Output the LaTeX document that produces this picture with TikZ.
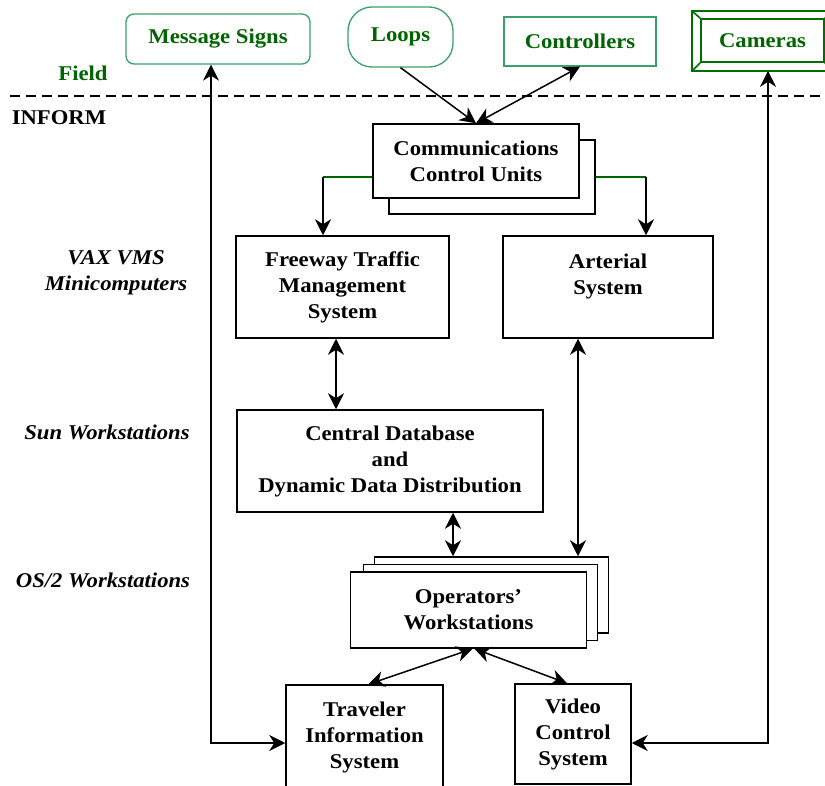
\documentclass[tikz,border=0pt]{standalone}
\usepackage{fontspec}
\setmainfont{Liberation Serif}[FakeStretch=1.08]
\usetikzlibrary{arrows.meta,positioning,calc}

\definecolor{fieldtext}{RGB}{0,100,0}
\definecolor{fieldedge}{RGB}{60,160,105}
\definecolor{camedge}{RGB}{0,110,0}

\begin{document}
\begin{tikzpicture}[
  x=1pt,
  y=-1pt,
  line width=1.5pt,
  font=\fontsize{21}{26}\selectfont\bfseries,
  >={Stealth[length=16pt,width=16pt,inset=5pt]}
]

  \tikzstyle{sysbox}=[draw,rectangle,fill=white,align=center,inner sep=2pt]
  \tikzstyle{fieldbox}=[draw=fieldedge,rectangle,fill=white,text=fieldtext,line width=1.3pt,inner sep=2pt]
  \tikzstyle{camframe}=[draw=camedge,line width=1.6pt]
  \tikzstyle{layerlab}=[align=center,font=\fontsize{21}{26}\selectfont\bfseries\itshape]
  \tikzstyle{feed}=[->]
  \tikzstyle{link}=[<->]
  \tikzstyle{bus}=[draw=fieldtext,line width=1.2pt]

  \useasboundingbox (0,0) rectangle (825,786);

  % field devices
  \node[fieldbox,rounded corners=8pt,minimum width=184pt,minimum height=50pt] (msg) at (218,39) {Message Signs};
  \node[fieldbox,rounded corners=24pt,minimum width=105pt,minimum height=60pt] (loops) at (400.5,37) {Loops};
  \node[fieldbox,minimum width=152pt,minimum height=49pt] (ctrl) at (580,41.5) {Controllers};
  \node[camframe,rectangle,text=fieldtext,minimum width=123pt,minimum height=43pt] (cam) at (762.5,40.5) {Cameras};
  \draw[camframe] ([shift={(-8pt,7pt)}]cam.north west) rectangle ([shift={(8pt,-8pt)}]cam.south east);
  \foreach \c/\dx/\dy in {north west/-8/7, north east/8/7, south west/-8/-8, south east/8/-8}
    \draw[camframe] (cam.\c) -- ([shift={(\dx pt,\dy pt)}]cam.\c);

  \node[text=fieldtext] (field) at (83,73) {Field};
  \draw[dash pattern=on 10pt off 6pt] (10,96) -- (825,96);
  \node (inform) at (59,118) {INFORM};

  % layer labels
  \node[layerlab] (vax) at (116,273) {VAX VMS\\Minicomputers};
  \node[layerlab] (sun) at (107,432) {Sun Workstations};
  \node[layerlab] (os2) at (103,580) {OS/2 Workstations};

  % systems
  \node[sysbox,minimum width=206pt,minimum height=74pt] (ccu back) at (492,177) {};
  \node[sysbox,minimum width=206pt,minimum height=74pt] (ccu) at (476,161) {Communications\\Control Units};

  \node[sysbox,minimum width=213pt,minimum height=102pt] (ftms) at (342.5,287) {Freeway Traffic\\Management\\System};
  \node[sysbox,minimum width=210pt,minimum height=102pt] (art) at (608,287) {Arterial\\System\\\mbox{}};
  \node[sysbox,minimum width=306pt,minimum height=102pt] (cddd) at (390,461) {Central Database\\and\\Dynamic Data Distribution};

  \node[sysbox,minimum width=234pt,minimum height=76pt] (ow3) at (491.5,595) {};
  \node[sysbox,minimum width=234pt,minimum height=76pt] (ow2) at (480.5,602.5) {};
  \node[sysbox,minimum width=236pt,minimum height=76pt] (ow) at (468.5,610) {Operators'\\Workstations};

  \node[sysbox,minimum width=157pt,minimum height=104pt] (tis) at (364.5,737) {Traveler\\Information\\System};
  \node[sysbox,minimum width=116pt,minimum height=100pt] (vcs) at (573,734) {Video\\Control\\System};

  % pointers
  \draw[feed] (loops.south) -- (ccu.north);
  \draw[link] (ctrl.south) -- (ccu.north);

  \coordinate (ftms in) at ([xshift=-19.5pt]ftms.north);
  \coordinate (art in) at ([xshift=38pt]art.north);
  \draw[bus] (ccu.west |- ccu back) -- (ccu back -| ftms in);
  \draw[feed] (ccu back -| ftms in) -- (ftms in);
  \draw[bus] (ccu back.east) -- (ccu back -| art in);
  \draw[feed] (ccu back -| art in) -- (art in);

  \draw[link] ([xshift=-6.5pt]ftms.south) -- ([xshift=-6.5pt]ftms.south |- cddd.north);
  \draw[link] ([xshift=63pt]cddd.south) -- ([xshift=63pt]cddd.south |- ow3.north);
  \draw[link] ([xshift=-30pt]art.south) -- ([xshift=-30pt]art.south |- ow3.north);

  \draw[link] ([xshift=4pt]ow.south) -- ([xshift=4pt]tis.north);
  \draw[link] ([xshift=6pt]ow.south) -- ([xshift=-6pt]vcs.north);

  \draw[link] ([xshift=-7pt]msg.south) |- ([yshift=-6pt]tis.west);
  \draw[link] ([shift={(5.5pt,-8pt)}]cam.south) |- ([yshift=-9pt]vcs.east);

\end{tikzpicture}
\end{document}
